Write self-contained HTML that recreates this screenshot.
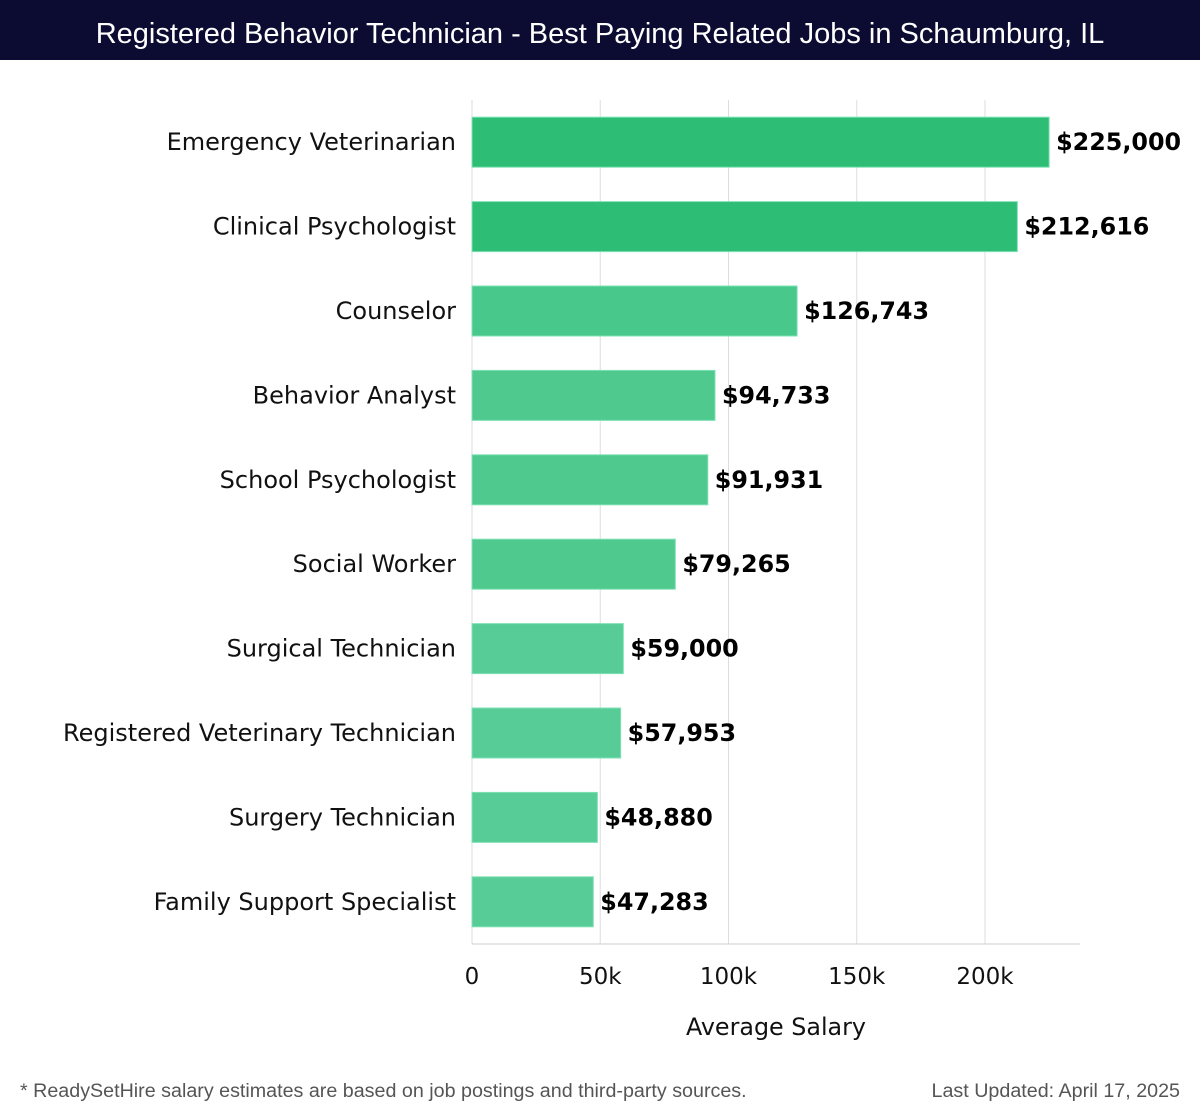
<!DOCTYPE html>
<html><head><meta charset="utf-8"><style>
body{margin:0;width:1200px;height:1120px;background:#fff;font-family:"DejaVu Sans","Liberation Sans",sans-serif;overflow:hidden}
#title{position:absolute;left:0;top:0;width:1200px;height:60px;background:#0c0c33;color:#fff;font-size:29px;line-height:68px;text-align:center;font-family:"Liberation Sans",sans-serif}
.foot{position:absolute;top:1080px;font-size:19.7px;color:#555;font-family:"Liberation Sans",sans-serif}
</style></head><body>
<div id="title">Registered Behavior Technician - Best Paying Related Jobs in Schaumburg, IL</div>
<svg id="chart" width="1200" height="1120" style="position:absolute;left:0;top:0"></svg>
<div class="foot" style="left:20px">* ReadySetHire salary estimates are based on job postings and third-party sources.</div>
<div class="foot" style="right:20px">Last Updated: April 17, 2025</div>
<script>
const categories=["Emergency Veterinarian","Clinical Psychologist","Counselor","Behavior Analyst","School Psychologist","Social Worker","Surgical Technician","Registered Veterinary Technician","Surgery Technician","Family Support Specialist"];
const values=[225000,212616,126743,94733,91931,79265,59000,57953,48880,47283];
const valueLabels=["$225,000","$212,616","$126,743","$94,733","$91,931","$79,265","$59,000","$57,953","$48,880","$47,283"];
const ticks=[0,50000,100000,150000,200000];
const tickLabels=["0","50k","100k","150k","200k"];
const svg=document.getElementById('chart');const NS='http://www.w3.org/2000/svg';
const x0=472,pxPer=(985-472)/200000,plotTop=100,plotBottom=944,step=(plotBottom-plotTop)/categories.length,bh=50;
const X=v=>x0+v*pxPer;
function mk(t,a,txt){const e=document.createElementNS(NS,t);for(const k in a)e.setAttribute(k,a[k]);if(txt!=null)e.textContent=txt;svg.appendChild(e);return e;}
ticks.forEach((t,i)=>{
 const g=mk('line',{x1:X(t),x2:X(t),y1:plotTop,y2:plotBottom,stroke:'#ddd','stroke-width':1});
 
 
 const l=mk('text',{x:X(t),y:984,'text-anchor':'middle','font-size':23,fill:'#111'},tickLabels[i]);
 
 
});
const ax=mk('line',{x1:x0,x2:1080,y1:plotBottom,y2:plotBottom,stroke:'#ccc'});


const at=mk('text',{x:776,y:1035,'text-anchor':'middle','font-size':23.8,fill:'#111'},'Average Salary');


categories.forEach((c,i)=>{
 const cy=plotTop+step*(i+0.5);
 const col=i<2?'#2dbd74':(i<3?'#48c88a':(i<6?'#4fc98e':'#57cc96'));
 const r=mk('rect',{x:x0,y:cy-bh/2,width:X(values[i])-x0,height:bh,fill:col,stroke:'#7fe0b5','stroke-width':1});
 
 
 const lb=mk('text',{x:456,y:cy+8,'text-anchor':'end','font-size':24,fill:'#111'},c);
 
 
 const vl=mk('text',{x:X(values[i])+7,y:cy+8,'font-size':23.8,'font-weight':'bold',fill:'#000'},valueLabels[i]);
 
 
});
</script>
</body></html>
